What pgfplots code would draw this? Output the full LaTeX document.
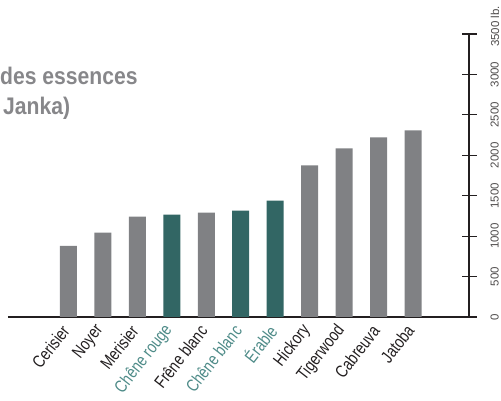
\documentclass[border=0pt]{standalone}
\usepackage{fontspec}
\setmainfont{Liberation Sans}[FakeStretch=0.88]
\newfontfamily\condfont{Liberation Sans}[FakeStretch=0.8]
\newfontfamily\plainfont{Liberation Sans}
\usepackage{pgfplots}
\pgfplotsset{compat=1.18}

\definecolor{bargray}{HTML}{808184}
\definecolor{barteal}{HTML}{326664}
\definecolor{labelteal}{HTML}{4E8B88}
\definecolor{titlegray}{HTML}{87878A}
\definecolor{darkline}{HTML}{231F20}

\begin{document}
\begin{tikzpicture}
\useasboundingbox (0,0) rectangle (501pt,401pt);

% titre coupé à gauche dans l'original
\node[anchor=base west, inner sep=0, text=titlegray, font=\bfseries\fontsize{24}{28}\selectfont]
  at (0pt,316pt) {des essences};
\node[anchor=base west, inner sep=0, text=titlegray, font=\bfseries\fontsize{24}{28}\selectfont]
  at (3pt,286pt) {Janka)};

\begin{axis}[
    at={(8pt,84pt)}, anchor=south west,
    scale only axis,
    width=461pt, height=283pt,
    xmin=-0.75, xmax=12.62,
    ymin=0, ymax=3500,
    axis x line=bottom, axis y line=right,
    x axis line style={-, line width=2pt, draw=darkline},
    y axis line style={-, line width=1.2pt, draw=darkline},
    xtick={1,...,11},
    xticklabels={Cerisier, Noyer, Merisier,
        \textcolor{labelteal}{Chêne rouge}, Frêne blanc,
        \textcolor{labelteal}{Chêne blanc}, \textcolor{labelteal}{Érable},
        Hickory, Tigerwood, Cabreuva, Jatoba},
    x tick style={draw=none},
    xticklabel style={rotate=52, anchor=east, text=darkline,
        xshift=3pt, yshift=5pt, inner sep=1pt,
        font=\condfont\fontsize{17.5}{20}\selectfont},
    ytick={0,500,...,3500},
    yticklabels={0,500,1000,1500,2000,2500,3000,3500\rlap{ lb.}},
    ytick align=center,
    major tick length=15pt,
    y tick style={line width=1.2pt, draw=darkline},
    yticklabel style={rotate=90, anchor=north, text=darkline!80,
        yshift=-13pt, inner sep=1pt,
        font=\plainfont\fontsize{11.5}{13}\selectfont},
    /pgf/number format/assume math mode=true,
    ybar, bar width=17pt,
    clip=false,
]
\addplot[fill=bargray, draw=none, bar shift=0pt] coordinates {
    (1,881) (2,1042) (3,1241) (5,1291)
    (8,1874) (9,2085) (10,2222) (11,2309)
};
\addplot[fill=barteal, draw=none, bar shift=0pt] coordinates {
    (4,1266) (6,1316) (7,1440)
};
\end{axis}
\end{tikzpicture}
\end{document}
